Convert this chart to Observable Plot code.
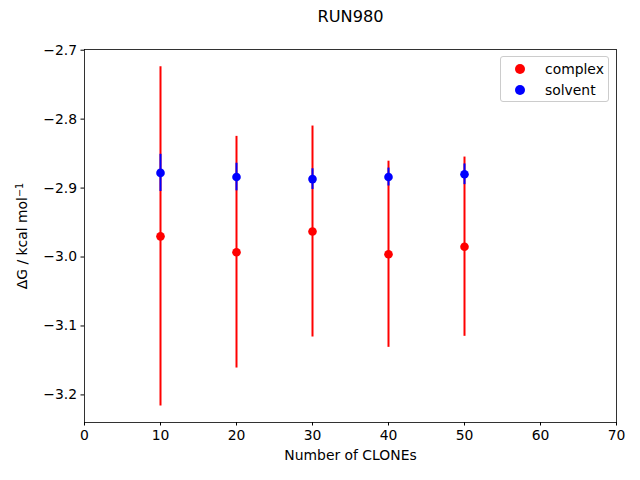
<!DOCTYPE html>
<html>
<head>
<meta charset="utf-8">
<script src="https://cdn.jsdelivr.net/npm/d3@7"></script>
<script src="https://cdn.jsdelivr.net/npm/@observablehq/plot@0.6"></script>
<style>
  html, body { margin: 0; padding: 0; background: #fff; }
  #wrap { position: relative; width: 640px; height: 480px; font-family: "DejaVu Sans", sans-serif; }
  #legend { position: absolute; left: 500px; top: 56px; width: 107px; height: 44px;
    border: 1px solid #cccccc; border-radius: 3px; background: rgba(255,255,255,0.8); font-size: 13.9px; }
  .item { position: absolute; left: 0; height: 20px; line-height: 20px; }
  .sw { position: absolute; left: 14px; top: 5px; width: 10px; height: 10px; border-radius: 50%; }
  .lab { position: absolute; left: 44px; top: 0; white-space: nowrap; }
</style>
</head>
<body>
<div id="wrap"></div>
<script>
const title = "RUN980";
const clones = [10, 20, 30, 40, 50];
const complexMean = [-2.970, -2.993, -2.963, -2.996, -2.985];
const complexErr = [0.246, 0.168, 0.153, 0.135, 0.130];
const solventMean = [-2.878, -2.884, -2.887, -2.884, -2.880];
const solventErr = [0.027, 0.020, 0.015, 0.013, 0.015];
const xTicks = [0, 10, 20, 30, 40, 50, 60, 70];
const yTicks = [-3.2, -3.1, -3.0, -2.9, -2.8, -2.7];
const seriesNames = ["complex", "solvent"];
const seriesColors = ["#ff0000", "#0000ff"];

const complexData = clones.map((c, i) => ({x: c, y: complexMean[i], e: complexErr[i]}));
const solventData = clones.map((c, i) => ({x: c, y: solventMean[i], e: solventErr[i]}));

const fmt = d3.format(".1f");

const chart = Plot.plot({
  width: 640,
  height: 480,
  marginLeft: 84,
  marginRight: 24,
  marginTop: 49,
  marginBottom: 58,
  style: {fontFamily: "DejaVu Sans, sans-serif", fontSize: "13.9px", color: "black", background: "white"},
  x: {domain: [0, 70]},
  y: {domain: [-3.2400, -2.6990]},
  marks: [
    Plot.axisX({ticks: xTicks, tickSize: 3.5, tickPadding: 4, tickFormat: d => String(d),
      label: "Number of CLONEs", labelAnchor: "center", labelArrow: "none", labelOffset: 37}),
    Plot.axisY({ticks: yTicks, tickSize: 3.5, tickPadding: 4, tickFormat: fmt,
      label: "ΔG / kcal mol⁻¹", labelAnchor: "center", labelArrow: "none", labelOffset: 67}),
    Plot.ruleX(complexData, {x: "x", y1: d => d.y - d.e, y2: d => d.y + d.e, stroke: seriesColors[0], strokeWidth: 2}),
    Plot.dot(complexData, {x: "x", y: "y", r: 4.3, fill: seriesColors[0]}),
    Plot.ruleX(solventData, {x: "x", y1: d => d.y - d.e, y2: d => d.y + d.e, stroke: seriesColors[1], strokeWidth: 2}),
    Plot.dot(solventData, {x: "x", y: "y", r: 4.3, fill: seriesColors[1]}),
    Plot.frame({stroke: "black", strokeWidth: 0.8}),
    Plot.text([title], {text: d => d, frameAnchor: "top", dy: -33, lineAnchor: "middle", fontSize: 16.2})
  ]
});

const wrap = document.getElementById("wrap");
wrap.appendChild(chart);

// render the exponent of the y label as a true superscript
d3.select(chart).selectAll("text").each(function() {
  const t = this.textContent;
  if (t === "ΔG / kcal mol⁻¹") {
    const el = d3.select(this);
    el.text(null);
    el.append("tspan").text("ΔG / kcal mol");
    el.append("tspan").attr("dy", "-0.45em").attr("font-size", "0.7em").text("−1");
  }
});

const legend = document.createElement("div");
legend.id = "legend";
seriesNames.forEach((name, i) => {
  const item = document.createElement("div");
  item.className = "item";
  item.style.top = (2 + i * 21) + "px";
  item.style.width = "100%";
  const sw = document.createElement("span");
  sw.className = "sw";
  sw.style.background = seriesColors[i];
  const lab = document.createElement("span");
  lab.className = "lab";
  lab.textContent = name;
  item.appendChild(sw);
  item.appendChild(lab);
  legend.appendChild(item);
});
wrap.appendChild(legend);
</script>
</body>
</html>
